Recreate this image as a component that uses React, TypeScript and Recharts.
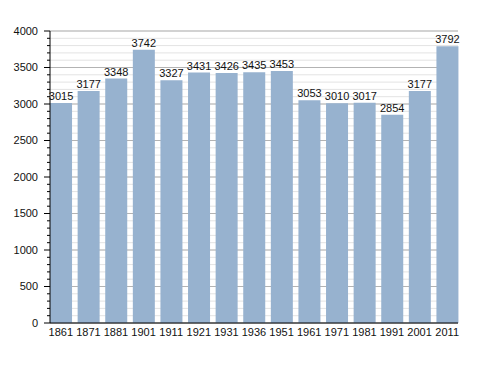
import React from 'react';
import { BarChart, Bar, XAxis, YAxis, CartesianGrid, LabelList } from 'recharts';

const years = ['1861', '1871', '1881', '1901', '1911', '1921', '1931', '1936', '1951', '1961', '1971', '1981', '1991', '2001', '2011'];
const population = [3015, 3177, 3348, 3742, 3327, 3431, 3426, 3435, 3453, 3053, 3010, 3017, 2854, 3177, 3792];
const majorTicks = [0, 500, 1000, 1500, 2000, 2500, 3000, 3500, 4000];
const minorTicks = [
  0, 100, 200, 300, 400, 500, 600, 700, 800, 900,
  1000, 1100, 1200, 1300, 1400, 1500, 1600, 1700, 1800, 1900,
  2000, 2100, 2200, 2300, 2400, 2500, 2600, 2700, 2800, 2900,
  3000, 3100, 3200, 3300, 3400, 3500, 3600, 3700, 3800, 3900, 4000,
];

const data = years.map((year, i) => ({ year, value: population[i] }));

const YTick = ({ x, y, payload }: any) => {
  const isMajor = payload.value % 500 === 0;
  return (
    <g>
      <line x1={x - (isMajor ? 6 : 3)} x2={x} y1={y} y2={y} stroke="#000" />
      {isMajor && (
        <text x={x - 12} y={y} dy="0.35em" textAnchor="end" fontSize={11} fill="#111">
          {payload.value}
        </text>
      )}
    </g>
  );
};

export default function App() {
  return (
    <div style={{ position: 'absolute', left: 0, top: 0, fontFamily: '"Liberation Sans", Arial, sans-serif' }}>
      <BarChart
        width={488}
        height={373}
        data={data}
        margin={{ top: 31, right: 30, left: 0, bottom: 30 }}
        barCategoryGap="11%"
      >
        <CartesianGrid vertical={false} horizontalValues={minorTicks} stroke="#e3e3e3" />
        <CartesianGrid vertical={false} horizontalValues={majorTicks} stroke="#b3b3b3" />
        <XAxis
          dataKey="year"
          height={20}
          padding={{ left: -3, right: -3 }}
          tickLine={false}
          tickSize={0}
          tickMargin={5}
          axisLine={{ stroke: '#000' }}
          tick={{ fill: '#111', fontSize: 11 }}
          interval={0}
        />
        <YAxis
          width={50}
          domain={[0, 4000]}
          ticks={minorTicks}
          interval={0}
          tickLine={false}
          tickSize={0}
          tickMargin={0}
          axisLine={{ stroke: '#000' }}
          tick={<YTick />}
        />
        <Bar dataKey="value" fill="#97b2cf" isAnimationActive={false}>
          <LabelList dataKey="value" position="top" offset={3} fill="#111" fontSize={11} />
        </Bar>
      </BarChart>
    </div>
  );
}
